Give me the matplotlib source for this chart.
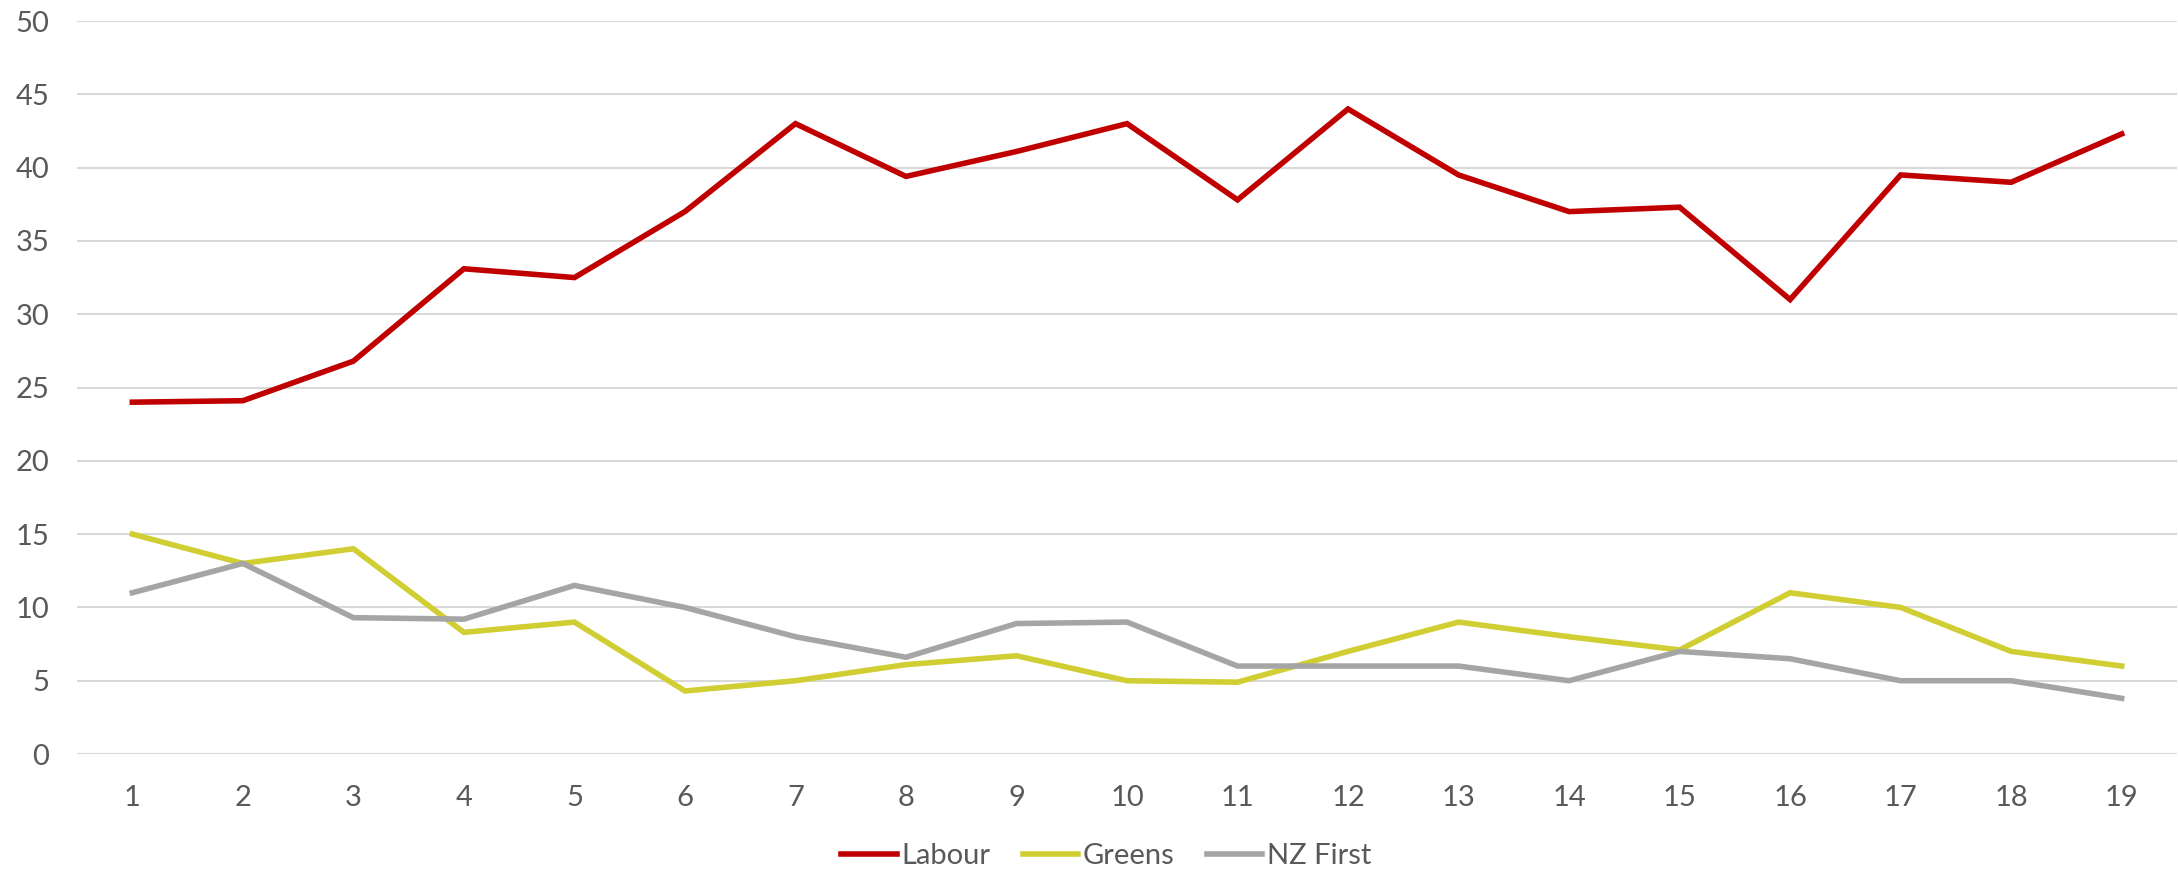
import matplotlib.pyplot as plt

plt.rcParams['font.family'] = ['Lato', 'DejaVu Sans']

polls = list(range(1, 20))
labour = [24.0, 24.1, 26.8, 33.1, 32.5, 37.0, 43.0, 39.4, 41.1, 43.0,
          37.8, 44.0, 39.5, 37.0, 37.3, 31.0, 39.5, 39.0, 42.3]
greens = [15.0, 13.0, 14.0, 8.3, 9.0, 4.3, 5.0, 6.1, 6.7, 5.0,
          4.9, 7.0, 9.0, 8.0, 7.1, 11.0, 10.0, 7.0, 6.0]
nzfirst = [11.0, 13.0, 9.3, 9.2, 11.5, 10.0, 8.0, 6.6, 8.9, 9.0,
           6.0, 6.0, 6.0, 5.0, 7.0, 6.5, 5.0, 5.0, 3.8]

fig = plt.figure(figsize=(21.78, 8.72), dpi=100)
ax = fig.add_axes([0.0354, 0.1353, 0.9641, 0.8406])

ax.plot(polls, labour, color='#C00000', lw=4, label='Labour', solid_joinstyle='miter')
ax.plot(polls, greens, color='#D0CE33', lw=4, label='Greens', solid_joinstyle='miter')
ax.plot(polls, nzfirst, color='#A5A5A5', lw=4, label='NZ First', solid_joinstyle='miter')

ax.set_xlim(0.5, 19.5)
ax.set_ylim(0, 50)
ax.set_yticks(range(0, 51, 5))
ax.set_xticks(polls)
ax.yaxis.grid(True, color='#D9D9D9', lw=1.5)
ax.set_axisbelow(True)
for s in ax.spines.values():
    s.set_visible(False)
ax.tick_params(length=0, labelsize=21, labelcolor='#595959')
ax.tick_params(axis='y', pad=20)
ax.tick_params(axis='x', pad=22)

fig.legend(loc='center', bbox_to_anchor=(0.508, 0.018), ncol=3, frameon=False,
           fontsize=21, handlelength=1.9, columnspacing=1.1, handletextpad=0.17,
           labelcolor='#595959')

fig.savefig('out.png', dpi=100)
